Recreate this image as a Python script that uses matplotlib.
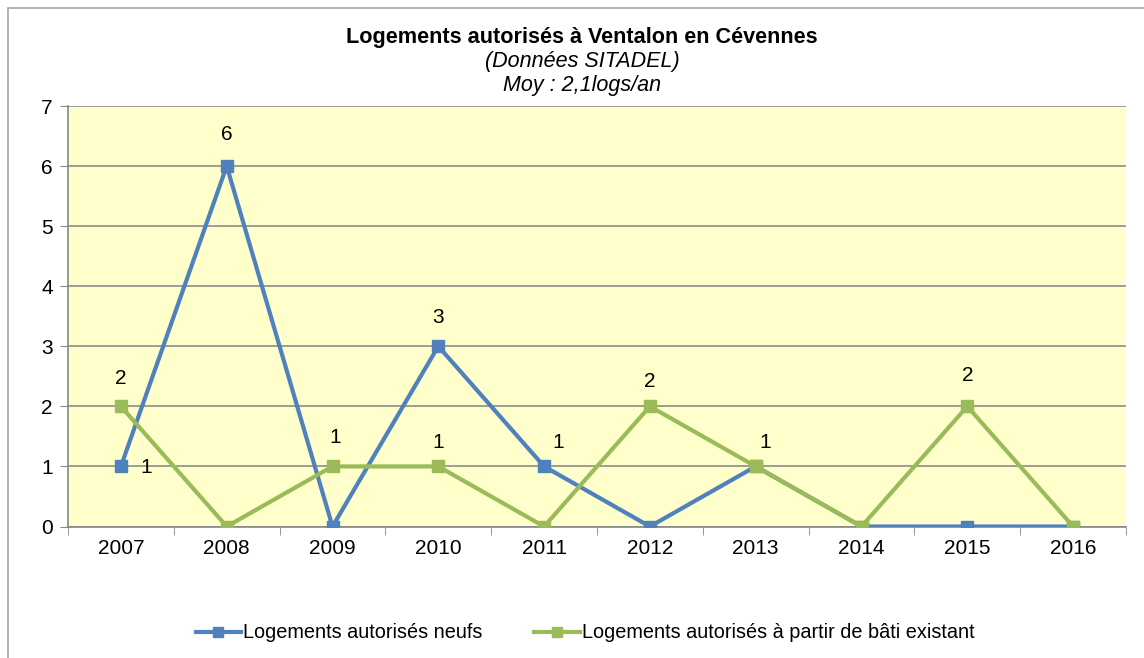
import matplotlib.pyplot as plt
from matplotlib.patches import Rectangle

# donnees SITADEL
annees = ["2007", "2008", "2009", "2010", "2011", "2012", "2013", "2014", "2015", "2016"]
neufs = [1, 6, 0, 3, 1, 0, 1, 0, 0, 0]
existant = [2, 0, 1, 1, 0, 2, 1, 0, 2, 0]

bleu = "#4F81BD"
vert = "#9BBB59"

plt.rcParams['font.family'] = ['Liberation Sans', 'DejaVu Sans']

fig = plt.figure(figsize=(11.44, 6.58), dpi=100)
fig.patches.append(Rectangle((8/1144, -0.1), 1.2, 1 - 8/658 + 0.1, transform=fig.transFigure,
                             fill=False, edgecolor="#A6A6A6", linewidth=1.2))
ax = fig.add_axes([68/1144, 1 - 526.5/658, (1126-68)/1144, (526.5-106)/658])
ax.set_facecolor("#FFFFCC")

x = range(len(annees))
ax.plot(x, neufs, color=bleu, lw=3, marker="s", ms=8.5, label="Logements autorisés neufs", zorder=3)
ax.plot(x, existant, color=vert, lw=3, marker="s", ms=8.5,
        label="Logements autorisés à partir de bâti existant", zorder=4)

# etiquettes (pas pour les zeros)
dec_neufs = [(18, -1), (0, 23), None, (0, 21), (10, 17), None, (7, 17), None, None, None]
dec_exist = [(0, 20), None, (2, 21), (0, 17), None, (0, 18), None, None, (0, 22), None]
for i, v in enumerate(neufs):
    if v and dec_neufs[i]:
        ax.annotate(str(v), (i, v), xytext=dec_neufs[i], textcoords="offset points",
                    ha="center", va="center", fontsize=15)
for i, v in enumerate(existant):
    if v and dec_exist[i]:
        ax.annotate(str(v), (i, v), xytext=dec_exist[i], textcoords="offset points",
                    ha="center", va="center", fontsize=15)

ax.set_xlim(-0.5, len(annees) - 0.5)
ax.set_ylim(0, 7)
ax.set_yticks(range(8))
ax.set_xticks(x)
ax.set_xticklabels(annees)
ax.set_xticks([i + 0.5 for i in range(-1, len(annees))], minor=True)
ax.tick_params(axis="x", which="major", length=0, pad=9, labelsize=15)
ax.tick_params(axis="x", which="minor", length=6, color="#878787")
ax.tick_params(axis="y", length=6, color="#878787", labelsize=15, pad=5)
ax.grid(axis="y", color="#8C8C8C", lw=1.2)
ax.set_axisbelow(True)
for s in ["top", "right"]:
    ax.spines[s].set_visible(False)
for s in ["left", "bottom"]:
    ax.spines[s].set_color("#878787")
    ax.spines[s].set_linewidth(1.2)

fig.text(582/1144, 1 - 37/658, "Logements autorisés à Ventalon en Cévennes", ha="center", va="center",
         fontsize=15.6, fontweight="bold")
fig.text(582/1144, 1 - 61/658, "(Données SITADEL)", ha="center", va="center", fontsize=15.5, style="italic")
fig.text(582/1144, 1 - 85/658, "Moy : 2,1logs/an", ha="center", va="center", fontsize=15.5, style="italic")

fig.legend(loc="center", bbox_to_anchor=(585/1144, 1 - 633/658), ncol=2, frameon=False,
           fontsize=14.3, handlelength=2.3, handletextpad=0.1, columnspacing=2.6, markerscale=0.9)

fig.savefig("out.png", dpi=100)
